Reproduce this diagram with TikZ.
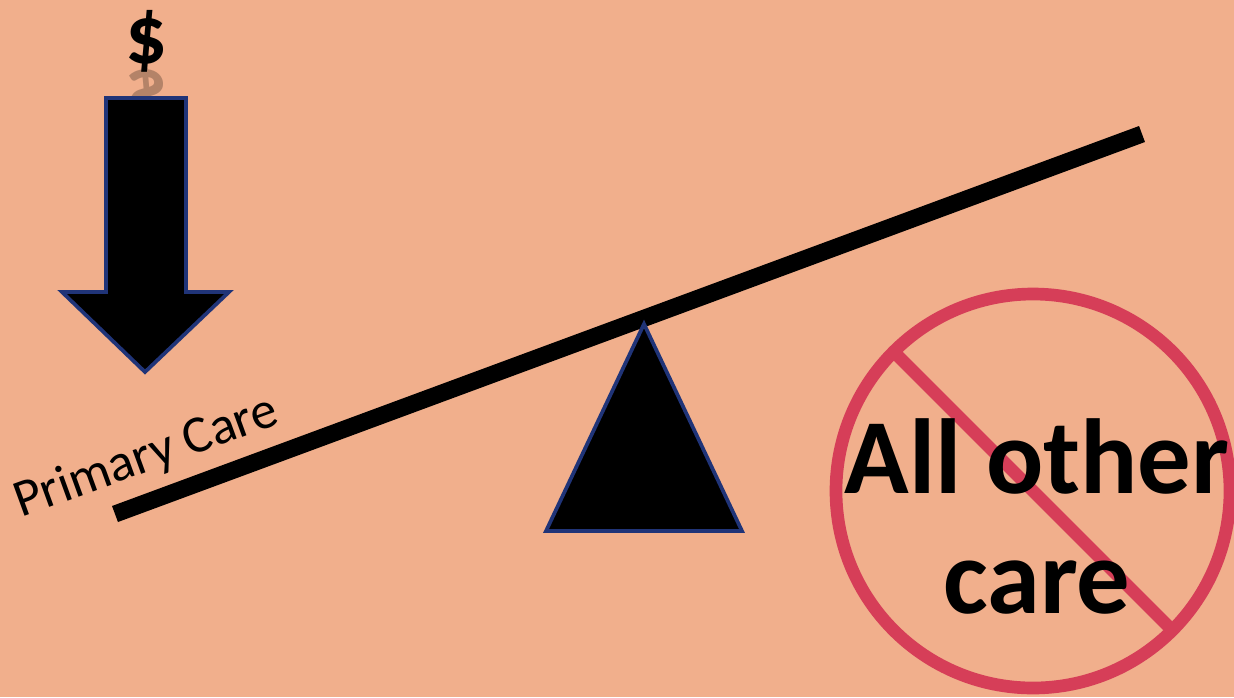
\documentclass[tikz,border=0pt]{standalone}
\usepackage{fontspec}
\setmainfont{Carlito}
\usetikzlibrary{calc}
\definecolor{bg}{RGB}{241,175,140}
\definecolor{edge}{RGB}{32,52,120}
\definecolor{nored}{RGB}{214,62,88}
\begin{document}
\begin{tikzpicture}[x=0.75pt,y=-0.75pt,
  solidshape/.style={fill=black,draw=edge,line width=2.8pt,line join=miter},
  beam/.style={line width=12.8pt},
  ring/.style={draw=nored,line width=9.5pt},
  dollarfont/.style={font=\fontsize{62}{64}\selectfont\bfseries,anchor=base,inner sep=0pt},
  big/.style={font=\fontsize{80}{90}\selectfont\bfseries,inner sep=0pt}]
\fill[bg] (0,0) rectangle (1234,697);
\useasboundingbox (0,0) rectangle (1234,697);
% dollar sign and its reflection
\node[dollarfont] (dollar) at (146,63) {\$};
\begin{scope}
  \clip (100,68) rectangle (200,95);
  \node[dollarfont,yscale=-1,opacity=0.25] (refl) at (146,70) {\$};
\end{scope}
% down arrow
\draw[solidshape] (106,98) -- (186,98) -- (186,292) -- (229,292) -- (145,372) -- (62,292) -- (106,292) -- cycle;
% beam
\coordinate (bl) at (115,514);
\coordinate (br) at (1142,134);
\draw[beam] (bl) -- (br);
% fulcrum
\draw[solidshape] (644,324) -- (742,531) -- (546,531) -- cycle;
% label
\node[font=\fontsize{39.5}{42}\selectfont,anchor=base west,rotate=20,inner sep=0pt] (pc) at (21,518) {Primary Care};
% prohibition sign
\coordinate (c) at (1033,491);
\draw[ring] (c) circle [radius=197];
\draw[ring] ($(c)+(-139.3,-139.3)$) -- ($(c)+(139.3,139.3)$);
\node[big,anchor=base] (all) at (1037,493) {All other};
\node[big,anchor=base] (care) at (1037,613) {care};
\end{tikzpicture}
\end{document}
